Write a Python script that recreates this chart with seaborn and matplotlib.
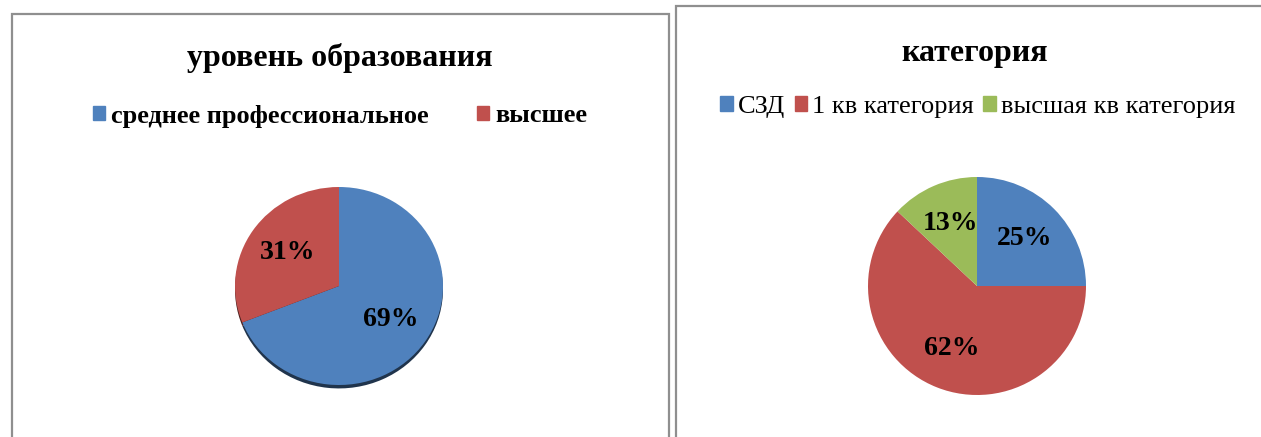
import matplotlib
matplotlib.use("Agg")
import matplotlib.pyplot as plt
import matplotlib.patches as mpatches
import seaborn as sns

# data
edu_labels = ["среднее профессиональное", "высшее"]
edu_values = [69, 31]
cat_labels = ["СЗД", "1 кв категория", "высшая кв категория"]
cat_values = [25, 62, 13]

edu_title = "уровень образования"
cat_title = "категория"

BLUE, RED, GREEN = "#4F81BD", "#C0504D", "#9BBB59"

sns.set_theme(style="white")
plt.rcParams['font.family'] = ['Liberation Serif', 'DejaVu Serif']
plt.rcParams['text.color'] = 'black'

W, H = 1261, 437
fig = plt.figure(figsize=(W / 100, H / 100), dpi=100)
fig.patch.set_facecolor("white")


def box(x0, y0, x1, y1):
    # pixel box (top-left origin) -> figure fraction rect
    return [x0 / W, (H - y1) / H, (x1 - x0) / W, (y1 - y0) / H]


# panel frames
for x0, y0, x1 in [(12, 14, 669), (676, 6, 1275)]:
    fig.add_artist(mpatches.Rectangle((x0 / W, -0.05), (x1 - x0) / W, (H - y0) / H + 0.05,
                                      transform=fig.transFigure, fill=False,
                                      edgecolor="#8f8f8f", linewidth=1.6))

# left pie
ax1 = fig.add_axes(box(235, 187, 443, 385))
wedges, _, autotexts = ax1.pie(edu_values, colors=[BLUE, RED], startangle=90, counterclock=False,
                               autopct="%1.0f%%", pctdistance=0.6,
                               shadow={"ox": 0, "oy": -0.025, "shade": 0.6, "alpha": 1},
                               wedgeprops={"linewidth": 0})
for t in autotexts:
    t.set_fontsize(20)
    t.set_fontweight("bold")
    t.set_color("black")
ax1.set_xlim(-1.0, 1.0)
ax1.set_ylim(-1.0, 1.0)
ax1.set_aspect("auto")
ax1.axis("off")

fig.text(340 / W, 1 - 58 / H, edu_title, ha="center", va="center", fontsize=23, fontweight="bold")
fig.legend(handles=[mpatches.Patch(color=c, label=l) for c, l in zip([BLUE, RED], edu_labels)],
           loc="center", bbox_to_anchor=(340 / W, 1 - 116 / H), ncol=2, frameon=False,
           prop={"size": 19, "weight": "bold"}, handlelength=0.48, handleheight=0.48,
           handletextpad=0.23, columnspacing=1.8)

# right pie
ax2 = fig.add_axes(box(868, 177, 1086, 395))
wedges2, _, autotexts2 = ax2.pie(cat_values, colors=[BLUE, RED, GREEN], startangle=90,
                                 counterclock=False, autopct="%1.0f%%", pctdistance=0.62,
                                 wedgeprops={"linewidth": 0})
for t in autotexts2:
    t.set_fontsize(20)
    t.set_fontweight("bold")
    t.set_color("black")
ax2.set_xlim(-1.0, 1.0)
ax2.set_ylim(-1.0, 1.0)
ax2.axis("off")

fig.text(975 / W, 1 - 53 / H, cat_title, ha="center", va="center", fontsize=23, fontweight="bold")
fig.legend(handles=[mpatches.Patch(color=c, label=l) for c, l in zip([BLUE, RED, GREEN], cat_labels)],
           loc="center", bbox_to_anchor=(978 / W, 1 - 107 / H), ncol=3, frameon=False,
           prop={"size": 19}, handlelength=0.48, handleheight=0.48,
           handletextpad=0.2, columnspacing=0.35)

fig.savefig("out.png", dpi=100, facecolor="white")
